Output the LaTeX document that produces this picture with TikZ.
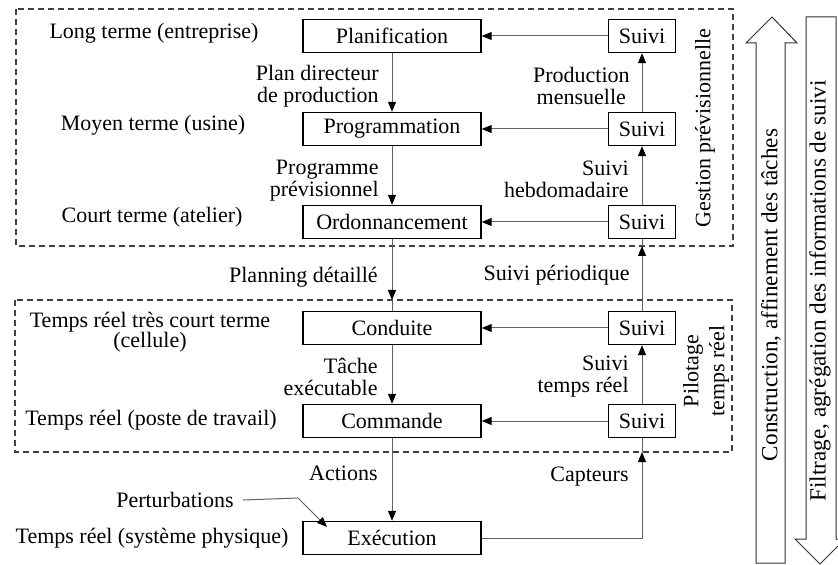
\documentclass[tikz,border=0pt]{standalone}
\usepackage{fontspec}
\setmainfont{Liberation Serif}
\usetikzlibrary{arrows.meta}
\begin{document}
\begin{tikzpicture}[x=0.5pt,y=-0.5pt,
  every node/.style={font=\fontsize{11}{11}\selectfont, inner sep=0pt},
  box/.style={draw=black, line width=0.7pt, fill=white, minimum width=89pt, minimum height=16.5pt},
  sbox/.style={draw=black, line width=0.7pt, fill=white, minimum width=33.5pt, minimum height=16.5pt},
  conn/.style={draw=black!62, line width=0.5pt, -{Triangle[length=5pt,width=4pt,color=black]}},
  plain/.style={draw=black!62, line width=0.5pt},
  dashbox/.style={draw=black!75, line width=0.7pt, dash pattern=on 3pt off 2pt},
  bigarrow/.style={draw=black!80, line width=0.5pt, fill=white, line join=miter},
  lbl/.style={align=center},
  rlbl/.style={anchor=east, align=right},
  bigtxt/.style={rotate=90, font=\fontsize{11.6}{12}\selectfont}
]
\useasboundingbox (0,0) rectangle (838,565);

% dashed groups
\coordinate (g1) at (16,9);
\coordinate (g2) at (733,246);
\coordinate (p1) at (15,300);
\coordinate (p2) at (732,452);
\draw[dashbox] (g1) rectangle (g2);
\draw[dashbox] (p1) rectangle (p2);

% big arrows
\draw[bigarrow] (772,17) -- (797,43) -- (785,43) -- (785,563) -- (756,563) -- (756,43) -- (746,43) -- cycle;
\draw[bigarrow] (806,17) -- (836,17) -- (836,539) -- (845,539) -- (820,564) -- (795,539) -- (806,539) -- cycle;
\node[bigtxt] (c1) at (771,295) {Construction, affinement des tâches};
\node[bigtxt] (c2) at (820,291) {Filtrage, agrégation des informations de suivi};

% main boxes
\node[box] (plan) at (392,36) {Planification};
\node[box] (prog) at (392,129) {Programmation};
\node[box] (ordo) at (392,222) {Ordonnancement};
\node[box] (cond) at (392,328) {Conduite};
\node[box] (comm) at (392,421) {Commande};
\node[box] (exec) at (392,538) {Exécution};

% suivi boxes
\node[sbox] (s1) at (642,36) {Suivi};
\node[sbox] (s2) at (642,129) {Suivi};
\node[sbox] (s3) at (642,222) {Suivi};
\node[sbox] (s4) at (642,328) {Suivi};
\node[sbox] (s5) at (642,421) {Suivi};

% left level labels
\node[lbl] (l1) at (154,33) {Long terme (entreprise)};
\node[lbl] (l2) at (153,125) {Moyen terme (usine)};
\node[lbl] (l3) at (152,217) {Court terme (atelier)};
\node[lbl, font=\fontsize{11}{10}\selectfont] (l4) at (150,332) {Temps réel très court terme\\(cellule)};
\node[lbl] (l5) at (151,420) {Temps réel (poste de travail)};
\node[lbl] (l6) at (152,538) {Temps réel (système physique)};

% flow labels
\node[rlbl] (a1) at (379,86) {Plan directeur\\de production};
\node[rlbl] (a2) at (379,181) {Programme\\prévisionnel};
\node[rlbl] (a3) at (378,277) {Planning détaillé};
\node[rlbl] (a4) at (378,377) {Tâche\\exécutable};
\node[rlbl] (a5) at (378,473) {Actions};
\node[anchor=east] (pert) at (234,500) {Perturbations};

\node[anchor=east, align=center] (b1) at (630,86) {Production\\mensuelle};
\node[rlbl] (b2) at (629,179) {Suivi\\hebdomadaire};
\node[rlbl] (b3) at (630,275) {Suivi périodique};
\node[rlbl] (b4) at (629,377) {Suivi\\temps réel};
\node[rlbl] (b5) at (629,477) {Capteurs};

% group labels
\node[rotate=90] (gp) at (705,128) {Gestion prévisionnelle};
\node[rotate=90, align=center, font=\fontsize{11}{13}\selectfont] (ptr) at (706,371) {Pilotage\\temps réel};

% connectors: downward flow
\draw[conn] (plan) -- (prog);
\draw[conn] (prog) -- (ordo);
\draw[conn] (ordo) -- (ordo.south |- p1);
\draw[plain] (ordo.south |- p1) -- (cond);
\draw[conn] (cond) -- (comm);
\draw[conn] (comm) -- (exec);

% connectors: feedback
\draw[conn] (s1) -- (plan);
\draw[conn] (s2) -- (prog);
\draw[conn] (s3) -- (ordo);
\draw[conn] (s4) -- (cond);
\draw[conn] (s5) -- (comm);
\draw[conn] (s3) -- (s2);
\draw[conn] (s2) -- (s1);
\draw[conn] (s5) -- (s4);
\draw[conn] (s4) -- (s4.north |- g2);
\draw[plain] (s4.north |- g2) -- (s3);
\draw[conn] (exec.east) -| (s5.south |- p2);
\draw[plain] (s5.south |- p2) -- (s5);

% perturbations
\coordinate (pk) at (298,498);
\coordinate (pe) at (327,527);
\draw[conn] ([xshift=4.5pt]pert.east) -- (pk) -- (pe);
\end{tikzpicture}
\end{document}
